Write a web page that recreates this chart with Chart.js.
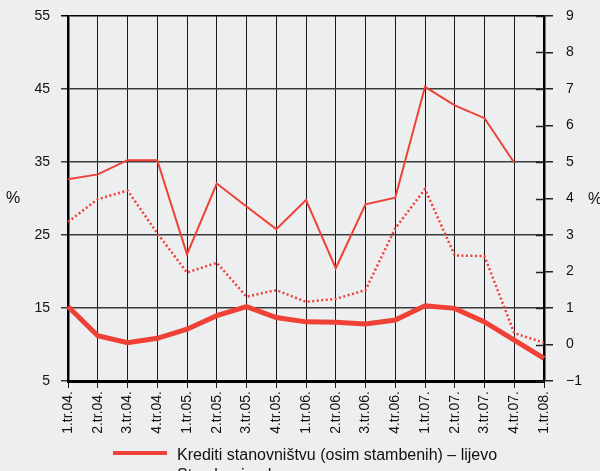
<!DOCTYPE html>
<html>
<head>
<meta charset="utf-8">
<script src="https://cdn.jsdelivr.net/npm/chart.js@4/dist/chart.umd.min.js"></script>
<style>
  html, body { margin: 0; padding: 0; background: #edeef0; overflow: hidden; }
  canvas { display: block; }
</style>
</head>
<body>
<canvas id="chart" width="600" height="471"></canvas>
<script>
const LABELS = ['1.tr.04.', '2.tr.04.', '3.tr.04.', '4.tr.04.', '1.tr.05.', '2.tr.05.', '3.tr.05.', '4.tr.05.',
  '1.tr.06.', '2.tr.06.', '3.tr.06.', '4.tr.06.', '1.tr.07.', '2.tr.07.', '3.tr.07.', '4.tr.07.', '1.tr.08.']

// lijevo
const KREDITI_STAN = [15.2, 11.2, 10.25, 10.85, 12.1, 13.95, 15.2, 13.7, 13.1, 13.05, 12.8, 13.35, 15.3, 14.95, 13.1, 10.6, 8.1]
// desno
const SERIJA_PUNA = [4.53, 4.66, 5.05, 5.05, 2.47, 4.41, 3.78, 3.16, 3.96, 2.09, 3.84, 4.02, 7.06, 6.55, 6.2, 4.98, null]
const SERIJA_TOCKE = [3.36, 3.98, 4.22, 3.05, 1.97, 2.24, 1.31, 1.49, 1.17, 1.25, 1.49, 3.18, 4.26, 2.44, 2.42, 0.31, 0.05]

const SERIES_NAMES = ['Krediti stanovništvu (osim stambenih) – lijevo', 'Stambeni – desno', 'Ostali – desno']

const RED = '#ef4136'
const FONT = '"Liberation Sans", Arial, sans-serif'

// legend as a left aligned list under the axis
const listLegend = {
  id: 'listLegend',
  afterDraw(chart) {
    const ctx = chart.ctx
    ctx.save()
    ctx.font = '16px ' + FONT
    ctx.textBaseline = 'middle'
    ctx.fillStyle = '#111'
    chart.data.datasets.forEach((ds, i) => {
      const y = 453 + i * 20
      ctx.strokeStyle = ds.borderColor
      ctx.lineWidth = 4
      ctx.setLineDash(ds.borderDash ? [2.5, 2.5] : [])
      ctx.beginPath()
      ctx.moveTo(113, y)
      ctx.lineTo(167, y)
      ctx.stroke()
      ctx.fillText(ds.label, 177, y + 3)
    })
    ctx.restore()
  }
}

// "%" next to both axes and the inner half of the right tick marks
const axisExtras = {
  id: 'axisExtras',
  afterDraw(chart) {
    const ctx = chart.ctx
    const area = chart.chartArea
    const right = chart.scales.y1
    ctx.save()
    ctx.strokeStyle = '#222'
    ctx.lineWidth = 1.5
    right.ticks.forEach(t => {
      const py = Math.round(right.getPixelForValue(t.value)) + 0.5
      ctx.beginPath()
      ctx.moveTo(area.right - 8, py)
      ctx.lineTo(area.right, py)
      ctx.stroke()
    })
    ctx.font = '16px ' + FONT
    ctx.fillStyle = '#111'
    ctx.textBaseline = 'middle'
    ctx.textAlign = 'left'
    ctx.fillText('%', 6, 199)
    ctx.fillText('%', 588, 200)
    ctx.restore()
  }
}

// keep the plot box fixed: no extra room from tick label padding
function fixY(width) {
  return s => {
    s.width = width
    s.paddingTop = 0
    s.paddingBottom = 0
  }
}

new Chart(document.getElementById('chart'), {
  type: 'line',
  data: {
    labels: LABELS,
    datasets: [
      { label: SERIES_NAMES[0], data: KREDITI_STAN, yAxisID: 'y', borderColor: RED, borderWidth: 5, pointRadius: 0, tension: 0 },
      { label: SERIES_NAMES[1], data: SERIJA_PUNA, yAxisID: 'y1', borderColor: RED, borderWidth: 2, pointRadius: 0, tension: 0 },
      { label: SERIES_NAMES[2], data: SERIJA_TOCKE, yAxisID: 'y1', borderColor: RED, borderWidth: 2.5, borderDash: [2, 2.5], pointRadius: 0, tension: 0 }
    ]
  },
  options: {
    responsive: false,
    animation: false,
    devicePixelRatio: 1,
    layout: { padding: { top: 16, left: 0, right: 0, bottom: 0 } },
    plugins: {
      legend: { display: false },
      tooltip: { enabled: false }
    },
    scales: {
      x: {
        afterFit: s => { s.height = 90 },
        grid: { color: '#1a1a1a', lineWidth: 1, tickLength: 7 },
        border: { color: '#000', width: 3 },
        ticks: {
          autoSkip: false, minRotation: 90, maxRotation: 90, padding: 3,
          color: '#111', font: { family: FONT, size: 14 }
        }
      },
      y: {
        position: 'left',
        min: 5, max: 55,
        afterFit: fixY(68),
        grid: {
          color: c => c.tick && c.tick.value === 55 ? '#000' : '#3a3a3a',
          lineWidth: 1.5, tickLength: 7
        },
        border: { color: '#000', width: 2.5 },
        ticks: { stepSize: 10, padding: 11, color: '#111', font: { family: FONT, size: 14 } }
      },
      y1: {
        position: 'right',
        min: -1, max: 9,
        afterFit: fixY(56),
        grid: { drawOnChartArea: false, color: '#222', lineWidth: 1.5, tickLength: 9 },
        border: { color: '#000', width: 2.5 },
        ticks: {
          stepSize: 1, padding: 13, color: '#111', font: { family: FONT, size: 14 },
          callback: v => String(v).replace('-', '\u2212')
        }
      }
    }
  },
  plugins: [listLegend, axisExtras]
})
</script>
</body>
</html>
